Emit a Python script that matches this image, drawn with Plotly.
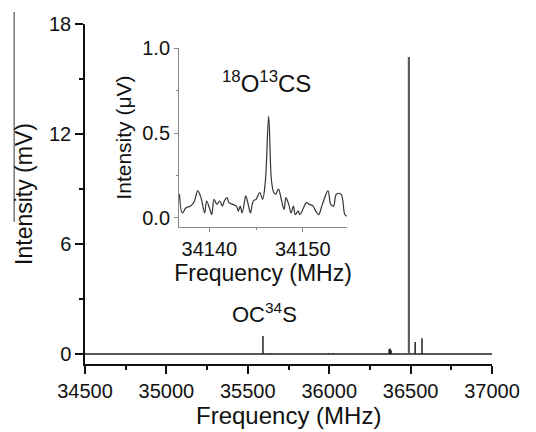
import plotly.graph_objects as go

# Main spectrum: stick peaks (MHz, mV)
peak_freq = [35593, 35640, 35655, 36000, 36025, 36368, 36374, 36380, 36489, 36528, 36570, 36605]
peak_int = [0.98, 0.05, 0.04, 0.05, 0.05, 0.25, 0.3, 0.2, 16.2, 0.65, 0.85, 0.04]
freq_start, freq_end = 34500, 37000

# Inset spectrum (MHz, microV)
inset_freq = [34136.8, 34137.1, 34137.5, 34138.0, 34138.4, 34138.75, 34139.1, 34139.5, 34139.7, 34140.0,
              34140.25, 34140.5, 34140.8, 34141.1, 34141.4, 34141.6, 34141.9, 34142.1, 34142.5, 34142.9,
              34143.1, 34143.3, 34143.5, 34143.75, 34143.9, 34144.2, 34144.4, 34144.7, 34145.0, 34145.4,
              34145.7, 34146.0, 34146.35, 34146.65, 34146.9, 34147.1, 34147.4, 34147.7, 34148.0, 34148.2,
              34148.5, 34148.75, 34149.0, 34149.2, 34149.5, 34149.7, 34150.0, 34150.4, 34150.7, 34151.1,
              34151.4, 34151.7, 34152.1, 34152.7, 34153.0, 34153.3, 34153.6, 34154.1, 34154.5, 34154.7]
inset_int = [0.14, 0.03, 0.06, 0.07, 0.10, 0.16, 0.12, 0.03, 0.10, 0.06,
             0.02, 0.11, 0.08, 0.10, 0.07, 0.10, 0.12, 0.09, 0.08, 0.07,
             0.04, 0.07, 0.03, 0.09, 0.13, 0.07, 0.03, 0.10, 0.11, 0.15,
             0.11, 0.22, 0.60, 0.22, 0.15, 0.14, 0.17, 0.11, 0.05, 0.12,
             0.08, 0.03, 0.07, 0.02, 0.04, 0.02, 0.05, 0.09, 0.08, 0.07,
             0.04, 0.02, 0.08, 0.16, 0.08, 0.07, 0.14, 0.14, 0.02, 0.01]

main_xticks = [34500, 35000, 35500, 36000, 36500, 37000]
main_yticks = [0, 6, 12, 18]
inset_xticks = [34140, 34150]
inset_yticks = [0.0, 0.5, 1.0]

# build stick line
xs, ys = [freq_start], [0]
for f, h in zip(peak_freq, peak_int):
    xs += [f, f, f]
    ys += [0, h, 0]
xs.append(freq_end)
ys.append(0)

# strongest line drawn separately (grey, as in reference)
imax = peak_int.index(max(peak_int))

FONT = "Liberation Sans, Arial, sans-serif"

fig = go.Figure()
fig.add_trace(go.Scatter(x=xs, y=ys, mode="lines", line=dict(color="#222", width=1.5),
                         hoverinfo="skip", showlegend=False))
fig.add_trace(go.Scatter(x=[peak_freq[imax], peak_freq[imax]], y=[0, peak_int[imax]], mode="lines",
                         line=dict(color="#5a5a5a", width=2), hoverinfo="skip", showlegend=False))
fig.add_trace(go.Scatter(x=inset_freq, y=inset_int, mode="lines", line=dict(color="#333", width=1.2, shape="spline"),
                         xaxis="x2", yaxis="y2", showlegend=False))

fig.update_layout(
    width=536, height=432,
    margin=dict(l=85, r=44, t=24, b=68),
    paper_bgcolor="white", plot_bgcolor="white",
    font=dict(family=FONT, color="#111", size=20),
    xaxis=dict(range=[freq_start, freq_end], tickvals=main_xticks, tickformat="d", ticks="outside", ticklen=8,
               tickwidth=1.5, automargin=False,
               tickcolor="#111", minor=dict(dtick=250, ticklen=4, tickwidth=1.5, tickcolor="#111", ticks="outside"),
               showline=True, linecolor="#111", linewidth=1.5, showgrid=False, zeroline=False,
               tickfont=dict(size=20)),
    yaxis=dict(range=[-0.55, 18], tickvals=main_yticks, ticks="outside", ticklen=8, tickwidth=1.5,
               automargin=False,
               tickcolor="#111", minor=dict(dtick=3, ticklen=4, tickwidth=1.5, tickcolor="#111", ticks="outside"),
               showline=True, linecolor="#111", linewidth=1.5, showgrid=False, zeroline=False,
               tickfont=dict(size=20),
               title=dict(text="Intensity (mV)", font=dict(size=23), standoff=10)),
    xaxis2=dict(domain=[0.231, 0.644], anchor="y2", range=[34136.75, 34154.75], tickvals=inset_xticks,
                tickformat="d", ticks="outside", ticklen=4, tickcolor="#888", automargin=False,
                minor=dict(tickvals=[34145], ticklen=2, tickcolor="#888", ticks="outside"),
                showline=True, linecolor="#888", linewidth=1, showgrid=False, zeroline=False,
                tickfont=dict(size=20),
                title=dict(text="Frequency (MHz)", font=dict(size=23), standoff=2)),
    yaxis2=dict(domain=[0.403, 0.929], anchor="x2", range=[-0.053, 1.0], tickvals=inset_yticks,
                tickformat=".1f", ticks="outside", ticklen=4, tickcolor="#888", automargin=False,
                minor=dict(tickvals=[0.25, 0.75], ticklen=2, tickcolor="#888", ticks="outside"),
                showline=True, linecolor="#888", linewidth=1, showgrid=False, zeroline=False,
                tickfont=dict(size=20),
                title=dict(text="Intensity (\u03bcV)", font=dict(size=21), standoff=4)),
    annotations=[
        dict(text="Frequency (MHz)", x=0.5, y=-0.152, xref="paper", yref="paper",
             xanchor="center", yanchor="middle", showarrow=False, font=dict(size=24)),
        dict(text="<sup>18</sup>O<sup>13</sup>CS", x=0.447, y=0.829, xref="paper", yref="paper",
             xanchor="center", yanchor="middle", showarrow=False, font=dict(size=24)),
        dict(text="OC<sup>34</sup>S", x=0.442, y=0.15, xref="paper", yref="paper",
             xanchor="center", yanchor="middle", showarrow=False, font=dict(size=22)),
    ],
    shapes=[
        dict(type="line", xref="paper", yref="paper", x0=-0.174, x1=-0.174, y0=0.418, y1=1.035,
             line=dict(color="#777", width=1.5)),
    ],
)

fig.write_html("out.html")
